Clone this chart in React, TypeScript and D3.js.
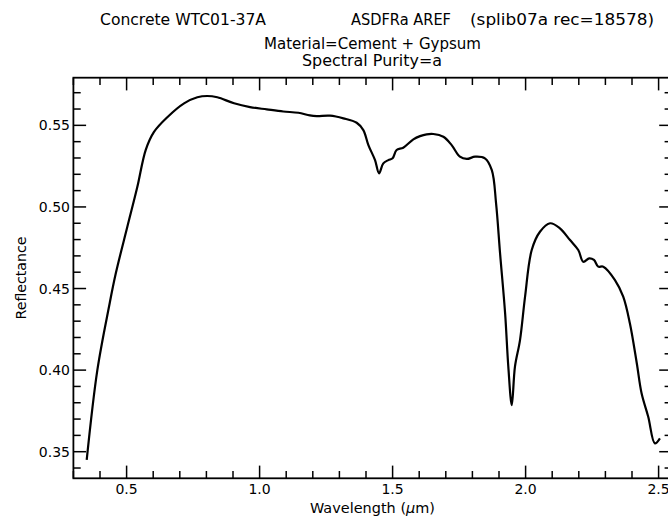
import React from "react";
import * as d3 from "d3";

const wavelengths = [
  0.35, 0.39, 0.434, 0.459, 0.503, 0.54, 0.572, 0.603, 0.653, 0.716, 0.766, 0.803, 0.841, 0.904,
  0.964, 1.027, 1.089, 1.146, 1.189, 1.215, 1.265, 1.315, 1.365, 1.39, 1.409, 1.434, 1.449,
  1.465, 1.484, 1.5, 1.515, 1.54, 1.578, 1.603, 1.628, 1.653, 1.691, 1.722, 1.753, 1.779,
  1.81, 1.847, 1.873, 1.889, 1.904, 1.923, 1.935, 1.948, 1.96, 1.979, 1.998, 2.023, 2.054,
  2.092, 2.129, 2.167, 2.198, 2.217, 2.239, 2.257, 2.273, 2.292, 2.336, 2.367, 2.392, 2.418,
  2.436, 2.461, 2.486, 2.505,
];
const reflectance = [
  0.345, 0.4, 0.439, 0.459, 0.488, 0.512, 0.535, 0.546, 0.555, 0.5635, 0.5672, 0.568, 0.5672,
  0.5635, 0.5612, 0.5598, 0.5585, 0.5577, 0.5561, 0.5557, 0.5559, 0.5543, 0.5516, 0.5471,
  0.5379, 0.5287, 0.5206, 0.5267, 0.5287, 0.5298, 0.5349, 0.5363, 0.5414, 0.5434, 0.5445,
  0.5447, 0.543, 0.5379, 0.5308, 0.5294, 0.5308, 0.5298, 0.5226, 0.5022, 0.4716, 0.4348,
  0.4021, 0.3786, 0.4021, 0.4184, 0.445, 0.4736, 0.4848, 0.49, 0.4869, 0.4797, 0.4736, 0.4664,
  0.4685, 0.4675, 0.4634, 0.4634, 0.4552, 0.445, 0.4287, 0.4042, 0.3858, 0.3714, 0.3551, 0.3582,
];
const xMajorTicks = [0.5, 1.0, 1.5, 2.0, 2.5];
const xTickLabels = ["0.5", "1.0", "1.5", "2.0", "2.5"];
const yMajorTicks = [0.35, 0.4, 0.45, 0.5, 0.55];
const yTickLabels = ["0.35", "0.40", "0.45", "0.50", "0.55"];
const titleLeft = "Concrete WTC01-37A";
const titleMid = "ASDFRa AREF";
const titleRight = "(splib07a rec=18578)";
const subtitle1 = "Material=Cement + Gypsum";
const subtitle2 = "Spectral Purity=a";

const W = 668;
const H = 518;
const L = 73.4;
const R = 671.9;
const T = 77.7;
const B = 478.3;
const FONT = "'DejaVu Sans', sans-serif";

export default function App() {
  const x = d3.scaleLinear().domain([0.3, 2.55]).range([L, R]);
  const y = d3.scaleLinear().domain([0.3337, 0.5792]).range([B, T]);
  const pts = wavelengths.map((w, i) => [w, reflectance[i]] as [number, number]);
  const line = d3
    .line<[number, number]>()
    .x((d) => x(d[0]))
    .y((d) => y(d[1]))
    .curve(d3.curveCatmullRom.alpha(0.5));

  const xMinor = d3.range(0.3, 2.551, 0.1).map((v) => Math.round(v * 100) / 100);
  const yMinor = d3.range(0.34, 0.58, 0.01).map((v) => Math.round(v * 1000) / 1000);
  const majLen = 12.7;
  const minLen = 7.3;
  const isMajX = (v: number) => xMajorTicks.some((m) => Math.abs(m - v) < 1e-6);
  const isMajY = (v: number) => yMajorTicks.some((m) => Math.abs(m - v) < 1e-6);

  return (
    <svg
      width={W}
      height={H}
      style={{ position: "absolute", left: 0, top: 0, background: "#fff" }}
      fontFamily={FONT}
    >
      <rect x={0} y={0} width={W} height={H} fill="#fff" />
      {/* titles */}
      <g fill="#000" fontSize={15}>
        <text x={100} y={25} textLength={166} lengthAdjust="spacingAndGlyphs">{titleLeft}</text>
        <text x={351} y={25} textLength={100} lengthAdjust="spacingAndGlyphs">{titleMid}</text>
        <text x={470} y={25} textLength={184} lengthAdjust="spacingAndGlyphs">{titleRight}</text>
        <text x={264} y={49} textLength={217} lengthAdjust="spacingAndGlyphs">{subtitle1}</text>
        <text x={302} y={66} textLength={140} lengthAdjust="spacingAndGlyphs">{subtitle2}</text>
      </g>
      {/* frame */}
      <rect x={L} y={T} width={R - L} height={B - T} fill="none" stroke="#000" strokeWidth={1.8} />
      {/* ticks */}
      <g stroke="#000" strokeWidth={1.5}>
        {xMinor.map((v) => {
          const len = isMajX(v) ? majLen : minLen;
          return (
            <g key={"x" + v}>
              <line x1={x(v)} x2={x(v)} y1={B} y2={B - len} />
              <line x1={x(v)} x2={x(v)} y1={T} y2={T + len} />
            </g>
          );
        })}
        {yMinor.map((v) => {
          const len = isMajY(v) ? majLen : minLen;
          return (
            <g key={"y" + v}>
              <line x1={L} x2={L + len} y1={y(v)} y2={y(v)} />
              <line x1={R} x2={R - len} y1={y(v)} y2={y(v)} />
            </g>
          );
        })}
      </g>
      {/* tick labels */}
      <g fill="#000" fontSize={14}>
        {xMajorTicks.map((v, i) => (
          <text key={"xl" + v} x={x(v)} y={494} textAnchor="middle">
            {xTickLabels[i]}
          </text>
        ))}
        {yMajorTicks.map((v, i) => (
          <text key={"yl" + v} x={70} y={y(v) + 5} textAnchor="end">
            {yTickLabels[i]}
          </text>
        ))}
      </g>
      {/* axis titles */}
      <text x={310} y={513} fontSize={14.5} fill="#000" textLength={125} lengthAdjust="spacingAndGlyphs">
        Wavelength (<tspan fontStyle="italic">μ</tspan>m)
      </text>
      <text
        transform={`translate(26, ${(T + B) / 2}) rotate(-90)`}
        textAnchor="middle"
        fontSize={14}
        fill="#000"
        textLength={83}
        lengthAdjust="spacingAndGlyphs"
      >
        Reflectance
      </text>
      {/* spectrum */}
      <path d={line(pts) || ""} fill="none" stroke="#000" strokeWidth={2.2} strokeLinejoin="round" />
    </svg>
  );
}
